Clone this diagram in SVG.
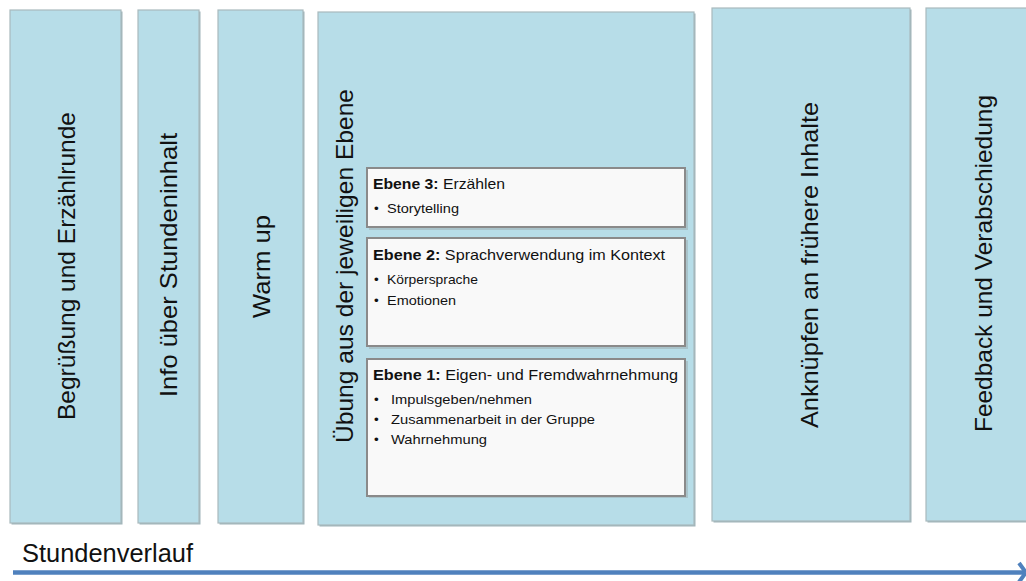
<svg xmlns="http://www.w3.org/2000/svg" width="1026" height="581" viewBox="0 0 1026 581">
<style>
.col{fill:#b7dde8;stroke:#a9b9bd;stroke-width:1.2}
.sh{fill:#9fb4ba}
.lbl{font-family:"Liberation Sans",Arial,sans-serif;font-size:24.5px;fill:#111}
.ib{fill:#f9f9f9;stroke:#8a8a8a;stroke-width:2}
.ish{fill:#a9c3ca}
.t{font-family:"Liberation Sans",Arial,sans-serif;font-size:15px;fill:#111}
.s{font-family:"Liberation Sans",Arial,sans-serif;font-size:13.5px;fill:#111}
.b{font-weight:bold}
</style>
<rect width="1026" height="581" fill="#ffffff"/>
<g id="n1">
<rect class="sh" x="11.5" y="11.5" width="111" height="513"/>
<rect class="col" x="10" y="10" width="111" height="513"/>
<text class="lbl" transform="translate(75,266) rotate(-90)" text-anchor="middle" textLength="308" lengthAdjust="spacingAndGlyphs">Begrüßung und Erzählrunde</text>
</g>
<g id="n2">
<rect class="sh" x="139.5" y="11.5" width="61" height="513"/>
<rect class="col" x="138" y="10" width="61" height="513"/>
<text class="lbl" transform="translate(177,265) rotate(-90)" text-anchor="middle" textLength="264" lengthAdjust="spacingAndGlyphs">Info über Stundeninhalt</text>
</g>
<g id="n3">
<rect class="sh" x="219.5" y="11.5" width="85" height="513"/>
<rect class="col" x="218" y="10" width="85" height="513"/>
<text class="lbl" transform="translate(270,266.5) rotate(-90)" text-anchor="middle" textLength="103" lengthAdjust="spacingAndGlyphs">Warm up</text>
</g>
<g id="n4">
<rect class="sh" x="319.5" y="13.5" width="376" height="513"/>
<rect class="col" x="318" y="12" width="376" height="513"/>
<text class="lbl" transform="translate(353,266) rotate(-90)" text-anchor="middle" textLength="354" lengthAdjust="spacingAndGlyphs">Übung aus der jeweiligen Ebene</text>
</g>
<g id="e3">
<rect class="ish" x="369" y="170" width="319" height="60"/>
<rect class="ib" x="367" y="168" width="318" height="59"/>
<text class="t" x="373" y="189" textLength="132" lengthAdjust="spacingAndGlyphs"><tspan class="b">Ebene 3:</tspan> Erzählen</text>
<text class="s" x="374" y="213">•</text>
<text class="s" x="387" y="213" textLength="72" lengthAdjust="spacingAndGlyphs">Storytelling</text>
</g>
<g id="e2">
<rect class="ish" x="369" y="240" width="319" height="109"/>
<rect class="ib" x="367" y="238" width="318" height="108"/>
<text class="t" x="373" y="260" textLength="292" lengthAdjust="spacingAndGlyphs"><tspan class="b">Ebene 2:</tspan> Sprachverwendung im Kontext</text>
<text class="s" x="374" y="284">•</text>
<text class="s" x="387" y="284" textLength="91" lengthAdjust="spacingAndGlyphs">Körpersprache</text>
<text class="s" x="374" y="305">•</text>
<text class="s" x="387" y="305" textLength="69" lengthAdjust="spacingAndGlyphs">Emotionen</text>
</g>
<g id="e1">
<rect class="ish" x="369" y="361" width="319" height="137"/>
<rect class="ib" x="367" y="359" width="318" height="137"/>
<text class="t" x="373" y="380" textLength="305" lengthAdjust="spacingAndGlyphs"><tspan class="b">Ebene 1:</tspan> Eigen- und Fremdwahrnehmung</text>
<text class="s" x="374" y="404">•</text>
<text class="s" x="391" y="404" textLength="141" lengthAdjust="spacingAndGlyphs">Impulsgeben/nehmen</text>
<text class="s" x="374" y="424">•</text>
<text class="s" x="391" y="424" textLength="204" lengthAdjust="spacingAndGlyphs">Zusammenarbeit in der Gruppe</text>
<text class="s" x="374" y="444">•</text>
<text class="s" x="391" y="444" textLength="96" lengthAdjust="spacingAndGlyphs">Wahrnehmung</text>
</g>
<g id="n5">
<rect class="sh" x="713.5" y="9.5" width="198" height="513"/>
<rect class="col" x="712" y="8" width="198" height="513"/>
<text class="lbl" transform="translate(818,265) rotate(-90)" text-anchor="middle" textLength="326" lengthAdjust="spacingAndGlyphs">Anknüpfen an frühere Inhalte</text>
</g>
<g id="n6">
<rect class="sh" x="927.5" y="9.5" width="110" height="513"/>
<rect class="col" x="926" y="8" width="110" height="513"/>
<text class="lbl" transform="translate(992,263.5) rotate(-90)" text-anchor="middle" textLength="337" lengthAdjust="spacingAndGlyphs">Feedback und Verabschiedung</text>
</g>
<g id="connectors">
<line x1="13" y1="572.5" x2="1025" y2="572.5" stroke="#4f81bd" stroke-width="4.5"/>
<polyline points="1019,563 1026,572.5 1019,582" fill="none" stroke="#4f81bd" stroke-width="4"/>
</g>
<g id="label">
<text class="lbl" x="22" y="562" font-size="25" textLength="171" lengthAdjust="spacingAndGlyphs" style="font-size:25px">Stundenverlauf</text>
</g>
</svg>
